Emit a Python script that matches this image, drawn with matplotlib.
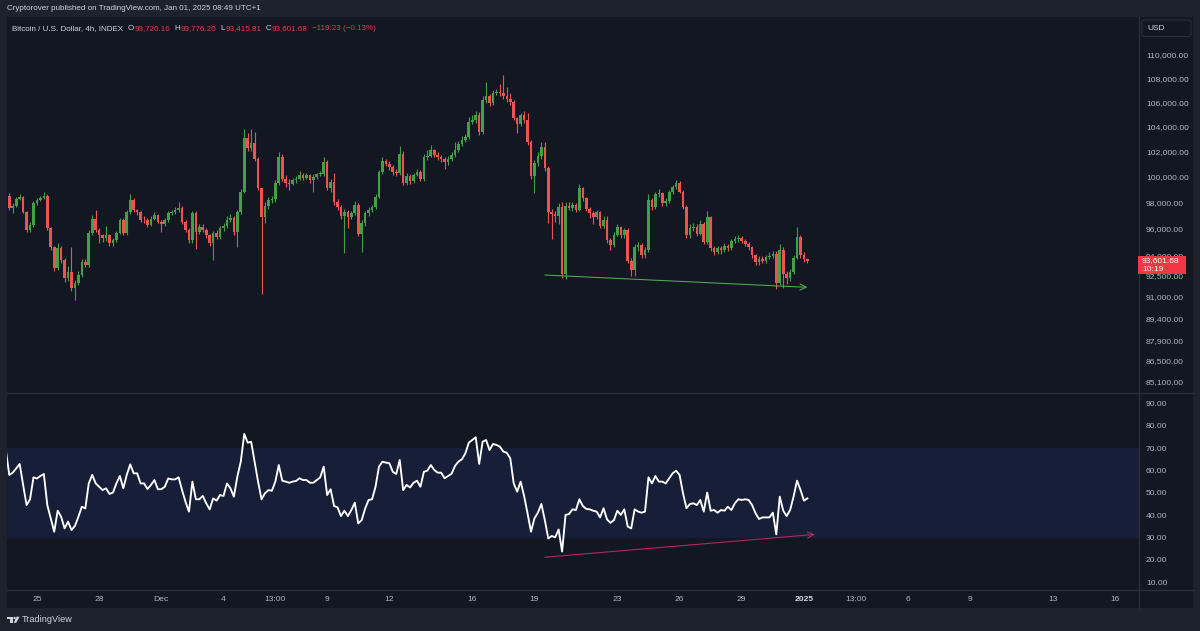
import numpy as np
import pandas as pd
import matplotlib
matplotlib.use('Agg')
import matplotlib.pyplot as plt
from matplotlib.patches import Rectangle, Polygon, Ellipse, FancyBboxPatch
from matplotlib.lines import Line2D
from matplotlib.ticker import NullLocator

plt.rcParams['font.family'] = ['Liberation Sans', 'DejaVu Sans']

# ---- data: Bitcoin / U.S. Dollar index, 4h candles (UTC+1) ----
last_bar = '2025-01-01 05:00'
first_open = 98460
last_ohlc = [93720.16, 93776.20, 93415.81, 93601.68]
last_change = -119.23

closes = [
    97550, 97700, 98230, 98390, 97240, 95870, 96250, 97930, 98160, 98300,
    98500, 96020, 94600, 93050, 94520, 93640, 92330, 92760, 91600, 91960,
    92540, 93490, 93270, 95650, 96700, 95870, 95500, 95270, 95500, 94900,
    95120, 95650, 96630, 95650, 97240, 98160, 97390, 97240, 96630, 96600,
    96250, 96700, 97010, 96480, 96330, 96630, 97160, 97240, 97390, 97550,
    96480, 95870, 95120, 97160, 95720, 96100, 95870, 95500, 94900, 95650,
    95350, 96020, 96150, 96630, 96780, 95720, 97240, 98780, 103060, 102250,
    102650, 101370, 99090, 96860, 97700, 98160, 98240, 99480, 101530, 99790,
    99480, 99400, 99710, 99790, 100100, 99870, 100100, 99710, 99950, 100180,
    100200, 101130, 99090, 99560, 98000, 97620, 96930, 97240, 96860, 97160,
    97780, 95570, 96400, 97160, 97390, 97620, 98390, 100340, 101210, 100970,
    100740, 100340, 100260, 101770, 99480, 100030, 99630, 100100, 100340, 99790,
    101530, 101610, 102090, 101690, 101530, 101370, 101130, 101410, 101690, 102090,
    102570, 102900, 103140, 104360, 104530, 104940, 103540, 106180, 106520, 105930,
    106770, 106850, 106800, 106520, 106260, 106010, 104690, 104200, 104940, 104500,
    102730, 100030, 101050, 101610, 102330, 100660, 97240, 97080, 96930, 97620,
    92620, 97700, 97550, 97780, 97390, 99090, 98310, 97470, 97160, 96860,
    97240, 96180, 96630, 95120, 94750, 95500, 96100, 95500, 95870, 93600,
    92910, 94600, 94750, 94010, 94380, 98160, 97620, 98620, 98700, 97930,
    98080, 98780, 99170, 99450, 98800, 97650, 95500, 96000, 96120, 95600,
    96330, 95000, 96880, 94500, 94250, 94530, 94380, 94680, 94530, 95050,
    95200, 95270, 95050, 94830, 94600, 94010, 93490, 93710, 93560, 93860,
    93940, 94100, 91960, 94380, 92620, 92330, 92760, 93790, 95350, 94010,
    93720.91, 93601.68,
]
highs = [
    98700, 97900, 98400, 98600, 98500, 97300, 96450, 98100, 98300, 98450,
    98800, 98600, 96100, 94650, 94900, 94700, 93800, 93200, 94600, 92200,
    92800, 93700, 93700, 95900, 97000, 97400, 96000, 95600, 96180, 95600,
    95300, 95800, 96800, 96750, 97400, 98620, 98300, 97500, 97300, 96900,
    96800, 96900, 97200, 97100, 96600, 96800, 97300, 97400, 97600, 98000,
    97700, 96600, 96000, 97300, 97300, 96300, 96300, 96000, 95600, 95800,
    95900, 96200, 96400, 96900, 97100, 96900, 97400, 99000, 103790, 103500,
    103800, 103540, 101500, 99100, 98000, 98400, 98500, 99700, 101930, 101800,
    100100, 99800, 99900, 100000, 100400, 100300, 100300, 100200, 100150, 100300,
    100400, 101500, 101300, 99800, 100300, 98200, 97800, 97500, 97400, 97300,
    98100, 97900, 96600, 97300, 97600, 97800, 98600, 100500, 101500, 101400,
    101200, 100900, 100600, 102400, 102000, 100300, 100200, 100300, 100600, 100500,
    101800, 102100, 102500, 102200, 101900, 101700, 101500, 101600, 101900, 102700,
    102800, 103200, 103400, 104800, 104900, 105300, 105200, 106500, 107690, 106700,
    107000, 107100, 107500, 108285, 107300, 106800, 106200, 104800, 105100, 105300,
    105100, 102900, 101300, 101900, 102700, 102700, 100800, 97500, 97300, 97900,
    98000, 98000, 98000, 98000, 97900, 99400, 99200, 98400, 97600, 97300,
    97400, 97300, 96900, 96900, 95300, 95700, 96300, 96200, 96000, 96000,
    93800, 94800, 95000, 94900, 94600, 98620, 98300, 98800, 99000, 98800,
    98300, 98900, 99300, 99710, 99600, 98900, 97800, 96300, 96400, 96300,
    96600, 96500, 97300, 96900, 94700, 94700, 94700, 94900, 94800, 95200,
    95400, 95500, 95400, 95200, 95000, 94700, 94100, 93900, 93900, 94000,
    94200, 94300, 94300, 94800, 94600, 92800, 93000, 94000, 96100, 95500,
    94200, 93776.20,
]
lows = [
    97400, 97160, 97650, 98150, 97150, 95700, 95700, 96100, 97800, 98050,
    98200, 95900, 94400, 92800, 92900, 93400, 92000, 92100, 91400, 90750,
    91800, 92400, 93100, 93100, 95500, 95700, 94900, 95000, 95050, 94700,
    94700, 95000, 95600, 95500, 95500, 97100, 97200, 97000, 96500, 96400,
    96100, 96200, 96600, 96400, 95720, 96200, 96500, 97000, 97100, 97200,
    96300, 95700, 94900, 94900, 94450, 95600, 95700, 95300, 94700, 93640,
    95200, 95200, 95800, 96000, 96500, 95500, 94600, 97100, 98700, 102000,
    102000, 101200, 98900, 91170, 96400, 97500, 97900, 98000, 99300, 99600,
    99200, 98930, 99300, 99500, 99700, 99700, 99800, 99500, 98800, 99800,
    100000, 100000, 98900, 98800, 97800, 97400, 96700, 94160, 96000, 96700,
    97000, 95400, 94230, 96200, 96900, 97200, 97500, 98300, 100200, 100800,
    100500, 100100, 100000, 100100, 99300, 99300, 99400, 99500, 100000, 99600,
    99600, 101300, 101500, 101500, 101300, 101100, 100600, 100900, 101200, 101500,
    101900, 102400, 102700, 103000, 104200, 104300, 103300, 103400, 105900, 105700,
    105800, 106600, 106500, 106300, 106000, 105800, 104500, 103500, 104000, 104300,
    102500, 99800, 98700, 100800, 101400, 100400, 96400, 95200, 96500, 96300,
    92300, 92250, 97400, 97300, 97200, 97300, 98100, 97300, 96800, 96300,
    96700, 96000, 96000, 94900, 94400, 94600, 95400, 95300, 95300, 93400,
    92470, 92470, 94300, 93800, 93800, 94200, 97400, 97500, 98400, 97700,
    97700, 97900, 98600, 99000, 98700, 97500, 95300, 95300, 95800, 95400,
    95500, 94800, 94800, 94300, 94000, 94100, 94100, 94200, 94300, 94400,
    94900, 95000, 94900, 94700, 94400, 93800, 93300, 93300, 93400, 93400,
    93700, 93800, 91500, 91820, 91600, 91900, 92100, 92600, 93700, 93800,
    93500, 93415.81,
]
# RSI; first value belongs to the bar just left of the visible range
rsi = [
    69.0, 58.0, 59.0, 60.9, 62.9, 53.5, 44.5, 47.1, 56.9, 56.4,
    57.5, 58.4, 44.5, 38.6, 32.6, 42.0, 39.3, 34.1, 37.1, 33.4,
    35.2, 39.3, 43.8, 43.0, 54.2, 58.0, 54.2, 52.7, 51.2, 52.0,
    49.5, 50.1, 54.2, 57.5, 52.0, 58.0, 62.7, 58.7, 58.7, 54.2,
    54.2, 51.7, 53.5, 55.7, 51.6, 51.6, 52.7, 56.4, 56.0, 56.0,
    56.9, 51.2, 46.0, 41.6, 55.0, 47.1, 47.1, 48.6, 45.3, 42.6,
    47.5, 46.5, 49.0, 48.6, 54.2, 52.0, 48.3, 57.2, 63.9, 76.3,
    72.4, 72.8, 63.9, 55.0, 47.1, 49.8, 51.2, 50.9, 55.0, 62.4,
    55.4, 55.0, 54.5, 55.0, 55.3, 56.5, 55.7, 55.7, 54.5, 54.5,
    55.7, 56.9, 61.7, 49.0, 51.6, 44.1, 43.5, 39.6, 42.0, 39.6,
    42.3, 45.6, 36.3, 37.8, 43.0, 46.8, 47.1, 52.7, 61.7, 63.9,
    63.5, 63.2, 59.4, 58.4, 64.7, 51.2, 53.5, 52.4, 54.5, 55.4,
    52.7, 59.4, 59.9, 62.4, 60.2, 59.0, 59.0, 56.5, 57.5, 58.5,
    62.0, 63.9, 65.0, 67.6, 72.4, 73.6, 74.8, 62.9, 72.8, 73.6,
    69.1, 71.8, 71.4, 70.6, 68.4, 67.9, 65.4, 54.2, 50.5, 55.0,
    48.6, 40.8, 32.6, 38.6, 41.1, 45.0, 37.8, 29.6, 30.7, 30.1,
    33.6, 23.7, 40.1, 40.5, 42.6, 42.3, 47.1, 44.1, 42.8, 42.6,
    42.0, 41.6, 39.0, 43.1, 38.1, 36.6, 37.8, 42.0, 40.1, 42.6,
    34.9, 34.1, 42.6, 41.6, 41.1, 41.6, 56.9, 54.2, 57.5, 55.0,
    55.0, 54.2, 56.5, 58.7, 59.9, 58.0, 49.8, 43.1, 45.0, 45.3,
    44.5, 46.8, 41.6, 50.1, 42.0, 42.3, 41.1, 42.3, 42.0, 43.8,
    42.3, 45.3, 47.1, 46.8, 47.1, 46.8, 44.5, 40.8, 38.3, 39.0,
    39.0, 39.0, 41.1, 31.4, 48.3, 42.0, 39.6, 42.3, 48.3, 55.4,
    51.3, 46.5, 47.5,
]

tick_times = ['2024-11-25 01:00', '2024-11-28 01:00', '2024-12-01 01:00', '2024-12-04 01:00',
              '2024-12-06 13:00', '2024-12-09 01:00', '2024-12-12 01:00', '2024-12-16 01:00',
              '2024-12-19 01:00', '2024-12-23 01:00', '2024-12-26 01:00', '2024-12-29 01:00',
              '2025-01-01 01:00', '2025-01-03 13:00', '2025-01-06 01:00', '2025-01-09 01:00',
              '2025-01-13 01:00', '2025-01-16 01:00']
tick_labels = ['25', '28', 'Dec', '4', '13:00', '9', '12', '16', '19', '23', '26', '29',
               '2025', '13:00', '6', '9', '13', '16']
price_ticks = [85100, 86500, 87900, 89400, 91000, 92500, 94000, 96000, 98000,
               100000, 102000, 104000, 106000, 108000, 110000]
rsi_ticks = [10, 20, 30, 40, 50, 60, 70, 80, 90]

# drawn trend lines: (bar, value)
price_trend = [(156.0, 92540), (232.0, 91650)]
rsi_trend = [(156.0, 21.2), (234.2, 31.4)]

BG = '#131722'
FRAME = '#1e222d'
LINE = '#2a2e39'
TXT = '#b2b5be'
WHITE = '#d1d4dc'
UP = '#43a047'
DOWN = '#ef5350'
RED = '#f23645'

W, H = 1200, 631


def fx(px):
    return px / W


def fy(py):
    return 1 - py / H


fig = plt.figure(figsize=(W / 100, H / 100), dpi=100)
fig.patch.set_facecolor(FRAME)
fig.add_artist(Rectangle((fx(7), fy(608)), fx(1193) - fx(7), fy(17) - fy(608),
                         transform=fig.transFigure, facecolor=BG, edgecolor='none', zorder=-5))

ax = fig.add_axes([fx(7), fy(392), fx(1139) - fx(7), fy(17) - fy(392)])
ax_r = fig.add_axes([fx(7), fy(590), fx(1139) - fx(7), fy(393) - fy(590)], sharex=ax)
for a in (ax, ax_r):
    a.set_facecolor(BG)
    for s in a.spines.values():
        s.set_visible(False)

# candles
c = np.array(closes, float)
h = np.array(highs, float)
l = np.array(lows, float)
o = np.r_[first_open, c[:-1]]
o[-1] = last_ohlc[0]
x = np.arange(1, len(c) + 1)
col = np.where(c >= o, UP, DOWN)
ax.vlines(x, l, h, colors=col, lw=0.8, zorder=2)
ax.bar(x, np.maximum(np.abs(c - o), 45), bottom=np.minimum(o, c), width=0.76,
       color=col, lw=0, zorder=3)
ax.set_yscale('log')
ax.set_ylim(84416, 113333)
ax.set_xlim(0.334, 327.98)

ax.yaxis.tick_right()
ax.set_yticks(price_ticks)
ax.set_yticklabels([f'{v:,.2f}' for v in price_ticks])
ax.yaxis.set_minor_locator(NullLocator())
ax.tick_params(axis='y', length=0, pad=5, labelsize=6.1, labelcolor=TXT)
ax.tick_params(axis='x', length=0, labelbottom=False)

(x0, y0), (x1, y1) = price_trend
ax.annotate('', xy=(x1, y1), xytext=(x0, y0),
            arrowprops=dict(arrowstyle='->,head_length=0.45,head_width=0.22',
                            color='#4caf50', lw=0.75, shrinkA=0, shrinkB=0), zorder=4)

# RSI pane
ax_r.axhspan(30, 70, color='#161e38', lw=0, zorder=0)
ax_r.plot(np.arange(0, len(rsi)), rsi, color='white', lw=1.35, zorder=3)
ax_r.set_ylim(6.56, 94.6)
ax_r.yaxis.tick_right()
ax_r.set_yticks(rsi_ticks)
ax_r.set_yticklabels([f'{v:.2f}' for v in rsi_ticks])
ax_r.tick_params(axis='y', length=0, pad=5, labelsize=6.1, labelcolor=TXT)

(x0, y0), (x1, y1) = rsi_trend
ax_r.annotate('', xy=(x1, y1), xytext=(x0, y0),
              arrowprops=dict(arrowstyle='->,head_length=0.45,head_width=0.22',
                              color='#b2285c', lw=0.8, shrinkA=0, shrinkB=0), zorder=4)

times = pd.date_range(end=last_bar, periods=len(closes), freq='4h')
tick_pos = [1 + (pd.Timestamp(t) - times[0]) / pd.Timedelta('4h') for t in tick_times]
ax_r.set_xticks(tick_pos)
ax_r.set_xticklabels(tick_labels)
ax_r.tick_params(axis='x', length=0, pad=4, labelsize=6.1, labelcolor=TXT)
for lab in ax_r.get_xticklabels():
    if lab.get_text() == '2025':
        lab.set_fontweight('bold')
        lab.set_color(WHITE)

# pane separators
for (xa, ya, xb, yb) in [(7, 392.5, 1193, 392.5), (7, 590, 1193, 590), (1139, 17, 1139, 608)]:
    fig.add_artist(Line2D([fx(xa), fx(xb)], [fy(ya), fy(yb)], transform=fig.transFigure,
                          color=LINE, lw=1.0, zorder=5))

# header
fig.text(fx(7), fy(8.5), 'Cryptorover published on TradingView.com, Jan 01, 2025 08:49 UTC+1',
         color=WHITE, fontsize=5.8, va='center')
prev_close = c[-1] - last_change
pct = last_change / prev_close * 100
chg_txt = f'{last_change:,.2f} ({pct:.2f}%)'.replace('-', '\u2212')
legend_parts = [('Bitcoin / U.S. Dollar, 4h, INDEX', WHITE, 0),
                ('O', WHITE, 5), (f'{last_ohlc[0]:,.2f}', RED, 0.5),
                ('H', WHITE, 4), (f'{last_ohlc[1]:,.2f}', RED, 0.5),
                ('L', WHITE, 4), (f'{last_ohlc[2]:,.2f}', RED, 0.5),
                ('C', WHITE, 4), (f'{last_ohlc[3]:,.2f}', RED, 0.5),
                (chg_txt, RED, 4)]
renderer = fig.canvas.get_renderer()
px = 12
for txt, colr, gap in legend_parts:
    px += gap
    t = fig.text(fx(px), fy(29), txt, color=colr, fontsize=5.8, va='center')
    px = t.get_window_extent(renderer).x1

# currency box
fig.add_artist(FancyBboxPatch((fx(1142), fy(36.5)), fx(1191) - fx(1142), fy(20) - fy(36.5),
                              boxstyle='round,pad=0,rounding_size=0.003', transform=fig.transFigure,
                              facecolor=BG, edgecolor=LINE, lw=0.8, zorder=6))
fig.text(fx(1147), fy(28.5), 'USD', color=WHITE, fontsize=6.0, va='center', zorder=7)

# last price label
yd = ax.transData.transform((1, c[-1]))[1]
py = H - yd
fig.add_artist(Rectangle((fx(1138), fy(py + 13.5)), fx(1186) - fx(1138), fy(py - 4.5) - fy(py + 13.5),
                         transform=fig.transFigure, facecolor=RED, edgecolor='none', zorder=8))
fig.text(fx(1142), fy(py + 0.5), f'{c[-1]:,.2f}', color='white', fontsize=6.1, va='center', zorder=9)
fig.text(fx(1142), fy(py + 8.5), '10:19', color='white', fontsize=6.1, va='center', zorder=9)

# footer logo
fig.add_artist(Rectangle((fx(6.7), fy(619)), fx(12.8) - fx(6.7), fy(616.7) - fy(619),
                         transform=fig.transFigure, facecolor=WHITE, edgecolor='none'))
fig.add_artist(Rectangle((fx(10.2), fy(622.8)), fx(12.8) - fx(10.2), fy(616.7) - fy(622.8),
                         transform=fig.transFigure, facecolor=WHITE, edgecolor='none'))
fig.add_artist(Ellipse((fx(14.6), fy(618)), fx(2.4), 2.4 / H,
                       transform=fig.transFigure, facecolor=WHITE, edgecolor='none'))
fig.add_artist(Polygon([(fx(16.6), fy(616.7)), (fx(19.6), fy(616.7)),
                        (fx(16.2), fy(622.8)), (fx(13.6), fy(622.8))],
                       closed=True, transform=fig.transFigure, facecolor=WHITE, edgecolor='none'))
fig.text(fx(21.5), fy(620), 'TradingView', color=WHITE, fontsize=6.6, va='center')

fig.savefig('out.png', dpi=100, facecolor=FRAME)
